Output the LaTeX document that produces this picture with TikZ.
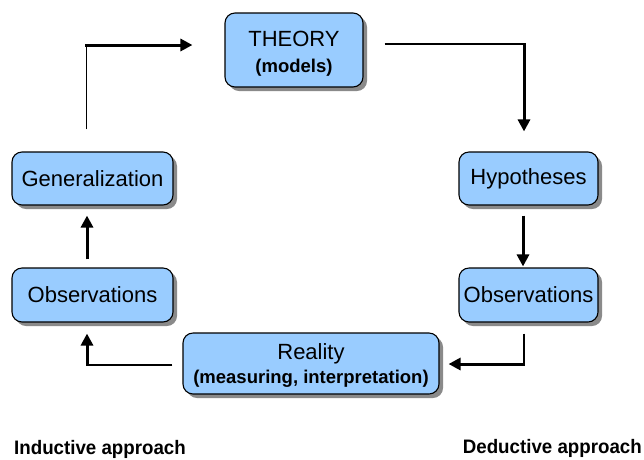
\documentclass[tikz,border=0pt]{standalone}
\usepackage{fontspec}
\setmainfont{Liberation Sans}
\usetikzlibrary{arrows.meta,shadows,calc}
\definecolor{boxblue}{HTML}{99CCFF}
\definecolor{shadowgray}{HTML}{8A8A8A}
\tikzset{
  box/.style={draw=black, line width=1.1pt, fill=boxblue, rounded corners=10pt,
    inner sep=0pt, align=center,
    drop shadow={shadow xshift=4pt, shadow yshift=-4pt, fill=shadowgray, opacity=1},
    font=\fontsize{22}{23}\selectfont},
  thinline/.style={line width=1.3pt, black},
  arr/.style={line width=3pt, black, -{Triangle[length=12pt,width=12pt]}},
  lbl/.style={inner sep=0pt, font=\bfseries}
}
\begin{document}
\begin{tikzpicture}[x=1pt,y=-1pt]
\useasboundingbox (0,0) rectangle (644,459);
\node[box, minimum width=138pt, minimum height=74pt] (theory) at (294,50)
  {\rule{0pt}{23pt}THEORY\\[3pt]{\bfseries\fontsize{18.5}{20}\selectfont (models)}};
\node[box, minimum width=161pt, minimum height=53pt] (gen) at (92.5,178.5) {Generalization};
\node[box, minimum width=161pt, minimum height=54pt] (obsL) at (92.5,295) {Observations};
\node[box, minimum width=139pt, minimum height=53pt] (hyp) at (528.5,178.5) {Hypotheses};
\node[box, minimum width=139pt, minimum height=54pt] (obsR) at (528.5,295) {Observations};
\node[box, minimum width=256pt, minimum height=61pt] (real) at (311,363.5)
  {\rule{0pt}{19pt}Reality\\[1pt]{\bfseries\fontsize{18.5}{20}\selectfont (measuring, interpretation)}};

% Generalization -> THEORY
\coordinate (s1) at ($(gen.north)+(-6,-22)$);
\coordinate (t1) at ($(theory.west)+(-32,-5)$);
\coordinate (k1) at (s1 |- t1);
\draw[thinline] (s1) -- (k1);
\draw[arr] ([xshift=-1.5pt]k1) -- (t1);

% THEORY -> Hypotheses
\coordinate (s2) at ($(theory.east)+(21,-6)$);
\coordinate (t2) at ($(hyp.north)+(-4.5,-20)$);
\coordinate (k2) at (t2 |- s2);
\draw[thinline] (s2) -- (k2);
\draw[arr] ([yshift=0.7pt]k2) -- (t2);

% Hypotheses -> Observations
\coordinate (s3) at ($(hyp.south)+(-5.5,10)$);
\coordinate (t3) at ($(obsR.north)+(-5.5,-1)$);
\draw[arr] (s3) -- (t3);

% Observations -> Reality
\coordinate (s4) at ($(obsR.south)+(-4.5,11)$);
\coordinate (t4) at ($(real.east)+(9,0.5)$);
\coordinate (k4) at (s4 |- t4);
\draw[thinline] (s4) -- (k4);
\draw[arr] ([xshift=0.7pt]k4) -- (t4);

% Reality -> Observations
\coordinate (s5) at ($(real.west)+(-10,1.5)$);
\coordinate (t5) at ($(obsL.south)+(-5.5,11)$);
\coordinate (k5) at (t5 |- s5);
\draw[thinline] (s5) -- (k5);
\draw[arr] ([yshift=-0.7pt]k5) -- (t5);

% Observations -> Generalization
\coordinate (s6) at ($(obsL.north)+(-5.5,-8)$);
\coordinate (t6) at ($(gen.south)+(-5.5,10)$);
\draw[arr] (s6) -- (t6);

\node[lbl, anchor=base west] (ind) at (14,454)
  {\scalebox{0.96}[1]{\fontsize{19.5}{20}\selectfont Inductive approach}};
\node[lbl, anchor=base east] (ded) at (642,453)
  {\scalebox{0.96}[1]{\fontsize{19.5}{21}\selectfont Deductive approach}};
\end{tikzpicture}
\end{document}
